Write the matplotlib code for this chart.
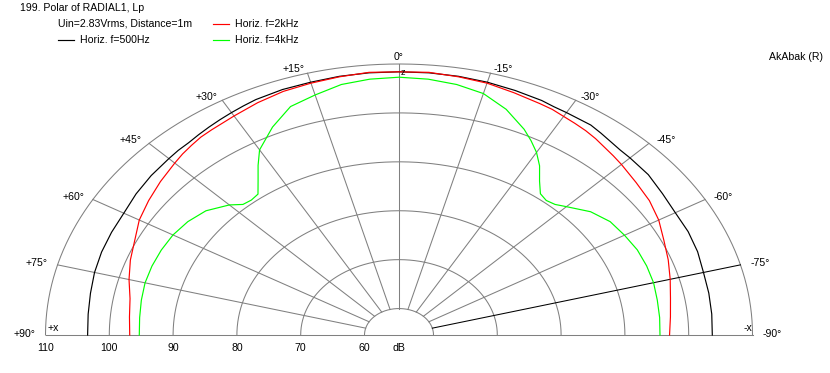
import numpy as np
import matplotlib
matplotlib.use("Agg")
import matplotlib.pyplot as plt
from matplotlib.lines import Line2D

# ---------------- data ----------------
angles = [90, 85, 80, 75, 70, 65, 60, 55, 50, 45, 42.5, 40, 37.5, 35, 32.5, 30, 27.5, 25, 20, 15, 10, 5, 0,
          -5, -10, -15, -20, -25, -27.5, -30, -32.5, -35, -37.5, -40, -42.5, -45, -50, -55, -60, -65, -70,
          -75, -80, -85, -90]

spl_500hz = [103.4, 103.5, 103.7, 104.0, 104.2, 104.3, 104.4, 104.9, 105.3, 105.6, 105.8, 105.9, 106.2,
             106.5, 106.8, 107.1, 107.4, 107.7, 108.0, 108.1, 108.3, 108.4, 108.4,
             108.4, 108.3, 108.1, 107.8, 107.5, 107.2, 107.1, 107.0, 107.0, 106.6, 106.2, 105.9, 105.8,
             105.6, 105.0, 104.6, 104.6, 104.4, 104.0, 103.9, 103.8, 103.7]

spl_2khz = [96.8, 97.0, 97.4, 98.4, 99.4, 100.3, 101.6, 102.5, 103.4, 104.3, 104.8, 105.2, 105.6,
            105.8, 106.0, 106.3, 106.6, 107.0, 107.6, 107.9, 108.2, 108.5, 108.4,
            108.5, 108.2, 107.9, 107.3, 106.8, 106.6, 106.2, 105.9, 105.6, 105.2, 104.7, 104.3, 103.9,
            103.1, 102.5, 101.6, 100.4, 99.5, 98.6, 97.8, 97.3, 97.0]

spl_4khz = [95.3, 95.4, 95.6, 95.8, 95.8, 95.7, 95.5, 95.0, 94.1, 92.2, 90.8, 90.6, 90.9,
            93.1, 95.7, 98.3, 99.8, 101.5, 104.3, 105.4, 106.6, 107.1, 107.3,
            107.1, 106.6, 105.7, 103.7, 101.0, 99.4, 97.7, 95.6, 93.0, 91.0, 90.5, 90.8, 91.7,
            93.8, 95.0, 95.4, 95.8, 95.9, 95.9, 95.7, 95.6, 95.5]

series_labels = ["Horiz. f=500Hz", "Horiz. f=2kHz", "Horiz. f=4kHz"]
series_colors = ["#000000", "#ff0000", "#00ff00"]

ring_db = [110, 100, 90, 80, 70, 60]
ring_labels = ["110", "100", "90", "80", "70", "60"]
spoke_angles = [90, 75, 60, 45, 30, 15, 0, -15, -30, -45, -60, -75, -90]
spoke_labels = ["+90°", "+75°", "+60°", "+45°", "+30°", "+15°", "0°",
                "-15°", "-30°", "-45°", "-60°", "-75°", "-90°"]

title_text = "199. Polar of RADIAL1, Lp"
subtitle_text = "Uin=2.83Vrms, Distance=1m"
brand_text = "AkAbak (R)"

# ---------------- layout ----------------
W, H = 830, 373
fig = plt.figure(figsize=(W / 100, H / 100), dpi=100)
cx, cy = 399.0, 335.0     # centre in pixels
rx, ry = 353.5, 271.0     # outer semi-axes in pixels
ax = fig.add_axes([(cx - rx) / W, (H - cy) / H, 2 * rx / W, ry / H])
ax.set_xlim(-1, 1)
ax.set_ylim(0, 1)
ax.axis("off")

DB_MIN, DB_MAX = 60, 110
R0 = 34.5 / 353.5
GREY = "#808080"
LW = 0.75
FONT = ["Liberation Sans", "DejaVu Sans"]
FS = 7.6


def rad(db):
    return R0 + (np.asarray(db, dtype=float) - DB_MIN) / (DB_MAX - DB_MIN) * (1 - R0)


def xy(ang, db):
    t = np.radians(np.asarray(ang, dtype=float))
    r = rad(db)
    return -r * np.sin(t), r * np.cos(t)


# rings
tt = np.linspace(-90, 90, 721)
for db in ring_db:
    x, y = xy(tt, np.full_like(tt, db))
    ax.plot(x, y, color=GREY, lw=LW, clip_on=False, zorder=1)

# baseline
ax.plot([-1, 1], [0, 0], color=GREY, lw=LW, clip_on=False, zorder=1)

# spokes
for a in spoke_angles:
    if abs(a) == 90:
        continue
    x, y = xy([a, a], [DB_MIN, DB_MAX])
    col = "#000000" if a == -75 else GREY
    ax.plot(x, y, color=col, lw=LW, clip_on=False, zorder=2 if a == -75 else 1)

# curves
for vals, col in zip([spl_500hz, spl_2khz, spl_4khz], series_colors):
    x, y = xy(angles, vals)
    ax.plot(x, y, color=col, lw=0.85, clip_on=False, zorder=3)

# spoke labels
for a, lab in zip(spoke_angles, spoke_labels):
    x, y = xy(a, DB_MAX)
    s = np.sin(np.radians(abs(a)))
    c = np.cos(np.radians(a))
    if a == 0:
        ax.annotate(lab, (x, y), xytext=(0, 7), textcoords="offset pixels",
                    ha="center", va="center", fontsize=FS, family=FONT, annotation_clip=False)
    else:
        dx = 10 * s if a < 0 else -10 * s
        ha = "left" if a < 0 else "right"
        ax.annotate(lab, (x, y), xytext=(dx, 1 + 3 * c), textcoords="offset pixels",
                    ha=ha, va="center", fontsize=FS, family=FONT, annotation_clip=False)

# ring labels under the baseline
for db, lab in zip(ring_db, ring_labels):
    x, _ = xy(90, db)
    ax.annotate(lab, (x, 0), xytext=(0, -13), textcoords="offset pixels",
                ha="center", va="center", fontsize=FS, family=FONT, annotation_clip=False)
ax.annotate("dB", (0, 0), xytext=(0, -13), textcoords="offset pixels",
            ha="center", va="center", fontsize=FS, family=FONT, annotation_clip=False)

ax.annotate("+x", (-1, 0), xytext=(2, 7), textcoords="offset pixels",
            ha="left", va="center", fontsize=FS, family=FONT, annotation_clip=False)
ax.annotate("-x", (1, 0), xytext=(0, 7), textcoords="offset pixels",
            ha="right", va="center", fontsize=FS, family=FONT, annotation_clip=False)
zx, zy = xy(0, spl_500hz[angles.index(0)])
ax.annotate("z", (zx, zy), xytext=(4, -1), textcoords="offset pixels",
            ha="center", va="center", fontsize=6.5, family=FONT, annotation_clip=False)

# header texts (figure pixel coordinates)
def ftext(px, py, s, **kw):
    fig.text(px / W, 1 - py / H, s, fontsize=FS, family=FONT, va="center", **kw)

ftext(20, 8, title_text)
ftext(57.5, 24, subtitle_text)
ftext(769, 57, brand_text)

legend_pos = [(58, 40), (213, 24), (213, 40)]
for (lx, ly), lab, col in zip(legend_pos, series_labels, series_colors):
    fig.add_artist(Line2D([lx / W, (lx + 16) / W], [1 - ly / H, 1 - ly / H],
                          color=col, lw=0.85, transform=fig.transFigure))
    ftext(lx + 22, ly, lab)

fig.savefig("out.png", dpi=100, facecolor="white")
